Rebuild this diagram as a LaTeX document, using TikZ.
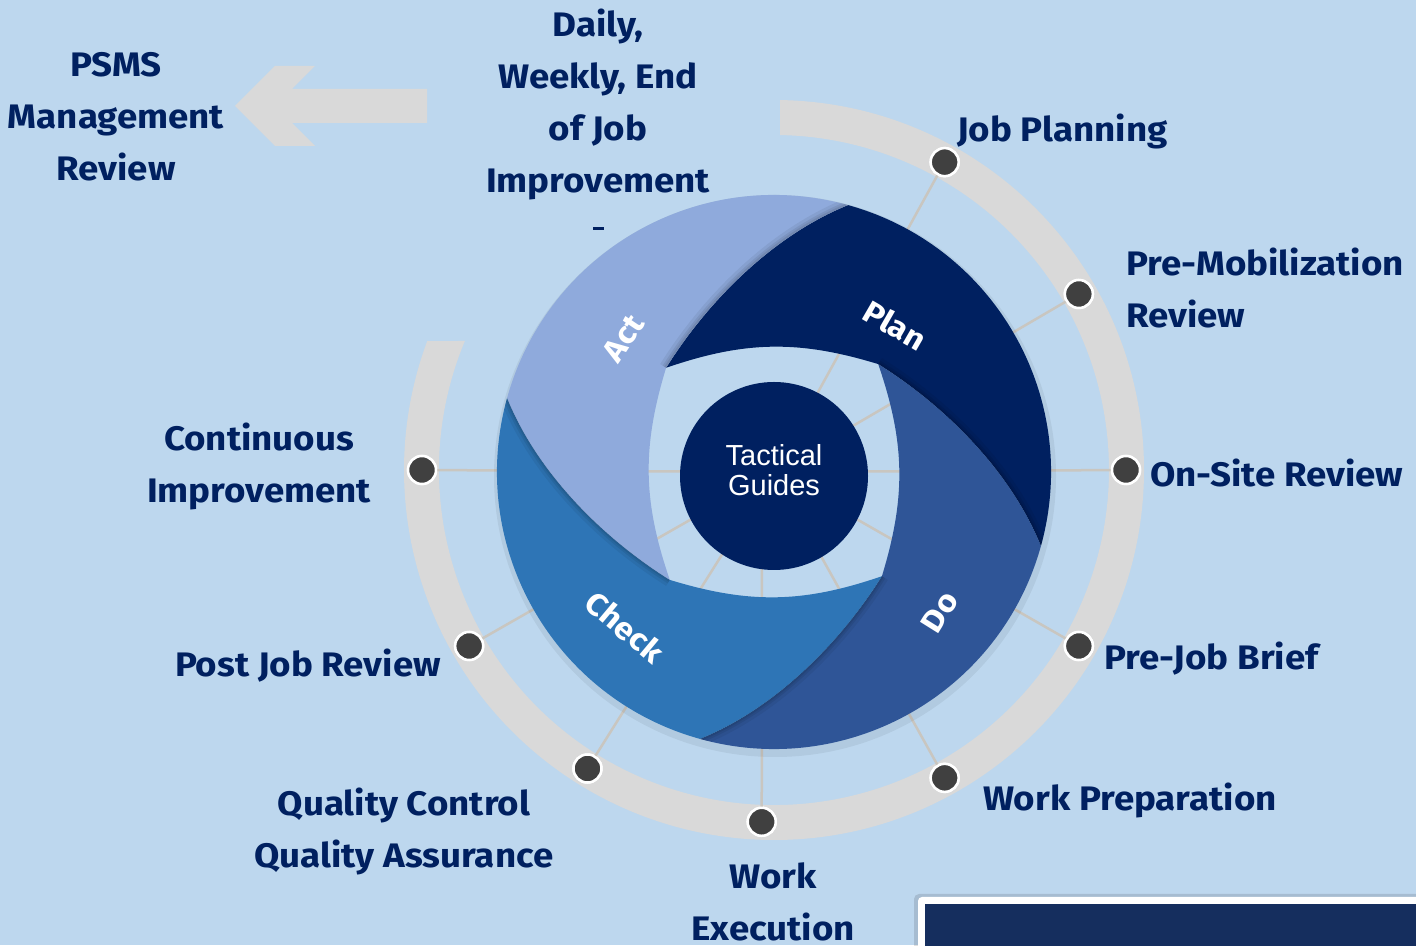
\documentclass[tikz,border=0pt]{standalone}
\usepackage{fontspec}
\setmainfont{Liberation Sans}
\newfontfamily\labfont{Fira Sans}[FakeStretch=1.08]
\usetikzlibrary{calc}
\definecolor{bg}{HTML}{BDD7EE}
\definecolor{navy}{HTML}{002060}
\definecolor{ringgray}{HTML}{D9D9D9}
\definecolor{spokegray}{HTML}{C9C6C0}
\definecolor{dotgray}{HTML}{404040}
\definecolor{cplan}{HTML}{002060}
\definecolor{cdo}{HTML}{2F5597}
\definecolor{ccheck}{HTML}{2E75B6}
\definecolor{cact}{HTML}{8FAADC}
\definecolor{boxnavy}{HTML}{152E5E}
\tikzset{
  lab/.style={font=\labfont\bfseries\fontsize{34}{52}\selectfont, text=navy, inner sep=0pt, align=center},
  labl/.style={lab, align=left},
  bladelab/.style={font=\labfont\bfseries\fontsize{31}{36}\selectfont, text=white, inner sep=0pt},
  dotnode/.style={circle, fill=dotgray, draw=white, line width=2.5pt, minimum size=28pt, inner sep=0pt},
  spoke/.style={draw=spokegray, line width=2.5pt},
}
\def\bladepath{(136:150) .. controls (-65.5,172) and (-0.2,236.9) .. (74.5:277)
  arc[start angle=74.5, end angle=-15.5, radius=277]
  .. controls (236.9,0.2) and (172,65.5) .. (46:150)
  to[bend right=18] (136:150) -- cycle}
\def\nextfront{(46:150) .. controls (172,65.5) and (236.9,0.2) .. (-15.5:277)}
\begin{document}
\begin{tikzpicture}[x=1pt,y=1pt]
\useasboundingbox (0,0) rectangle (1416,945);
\clip (0,0) rectangle (1416,945);
\fill[bg] (0,0) rectangle (1416,945);

% arrow
\fill[ringgray] (235,839) -- (275,879) -- (315,879) -- (292,856) -- (427,856)
  -- (427,822) -- (292,822) -- (315,799) -- (275,799) -- cycle;

% ring
\coordinate (R) at (774,475);
\coordinate (C) at (774,473);
\begin{scope}[shift={(R)}]
\fill[ringgray] (89.07:370) arc[start angle=89.07, end angle=-200.4, radius=370]
  -- (-202.65:335) arc[start angle=-202.65, end angle=88.97, radius=335] -- cycle;
\node[dotnode] (d1) at (61:352) {};
\node[dotnode] (d2) at (30:352) {};
\node[dotnode] (d3) at (0:352) {};
\node[dotnode] (d4) at (-30:352) {};
\node[dotnode] (d5) at (-61:352) {};
\node[dotnode] (d6) at (-92:352) {};
\node[dotnode] (d7) at (-122:352) {};
\node[dotnode] (d8) at (-150:352) {};
\node[dotnode] (d9) at (180:352) {};
\end{scope}

% spokes
\foreach \d in {d1,d2,d3,d4,d5,d7,d8,d9} { \draw[spoke] (C) -- (\d.center); }
\coordinate (c6) at (762,473);
\draw[spoke] (c6) -- (d6.center);

% soft shadow around the swirl (ring only)
\fill[black, opacity=0.06, even odd rule] (775,469) circle[radius=281] (775,469) circle[radius=260];

% blades
\foreach \k/\col in {0/cplan,1/cdo,2/ccheck,3/cact} {
\begin{scope}[shift={(C)}, rotate=-90*\k]
\fill[\col] \bladepath;
\end{scope}
}
% shadows cast by each blade's front edge on the blade beneath
\foreach \k in {0,1,2,3} {
\begin{scope}[shift={(C)}, rotate=-90*\k]
\clip \bladepath;
\draw[black, opacity=0.06, line width=14pt] \nextfront;
\draw[black, opacity=0.07, line width=8pt] \nextfront;
\draw[black, opacity=0.08, line width=4pt] \nextfront;
\end{scope}
}

% center circle
\node[circle, fill=navy, minimum size=188pt, inner sep=0pt] (tg) at (774,469) {};
\node[font=\fontsize{29}{30}\selectfont, text=white, align=center, inner sep=0pt] (tgt) at (774,475) {Tactical\\Guides};

% dots on top of spokes
\begin{scope}[shift={(R)}]
\foreach \a in {61,30,0,-30,-61,-92,-122,-150,180} { \node[dotnode] at (\a:352) {}; }
\end{scope}

% blade labels
\node[bladelab, rotate=-30] (lplan) at (895,620) {Plan};
\node[bladelab, rotate=58] (ldo) at (940,333) {Do};
\node[bladelab, rotate=-40] (lcheck) at (625,318) {Check};
\node[bladelab, rotate=56] (lact) at (623,607) {Act};

% outer labels
\node[lab] (psms) at (116,828) {PSMS\\Management\\Review};
\node[lab] (daily) at (598,841) {Daily,\\Weekly, End\\of Job\\Improvement};
\fill[navy] (593,715) rectangle (604,718);
\node[lab, anchor=west] (jp) at (957,814) {Job Planning};
\node[labl, anchor=west] (pm) at (1126,657) {Pre-Mobilization\\Review};
\node[lab, anchor=west] (os) at (1150,472) {On-Site Review};
\node[lab, anchor=west] (pj) at (1104,286) {Pre-Job Brief};
\node[lab, anchor=west] (wp) at (983,145) {Work Preparation};
\node[lab] (we) at (773,43) {Work\\Execution};
\node[lab] (qc) at (404,114) {Quality Control\\Quality Assurance};
\node[lab, anchor=east] (pjr) at (441,279) {Post Job Review};
\node[lab] (ci) at (259,479) {Continuous\\Improvement};

% bottom right box
\fill[black, opacity=0.12, rounded corners=5pt] (914,-20) rectangle (1440,51);
\fill[white, rounded corners=4pt] (918,-20) rectangle (1440,48);
\fill[boxnavy] (925,-20) rectangle (1440,41);
\end{tikzpicture}
\end{document}
